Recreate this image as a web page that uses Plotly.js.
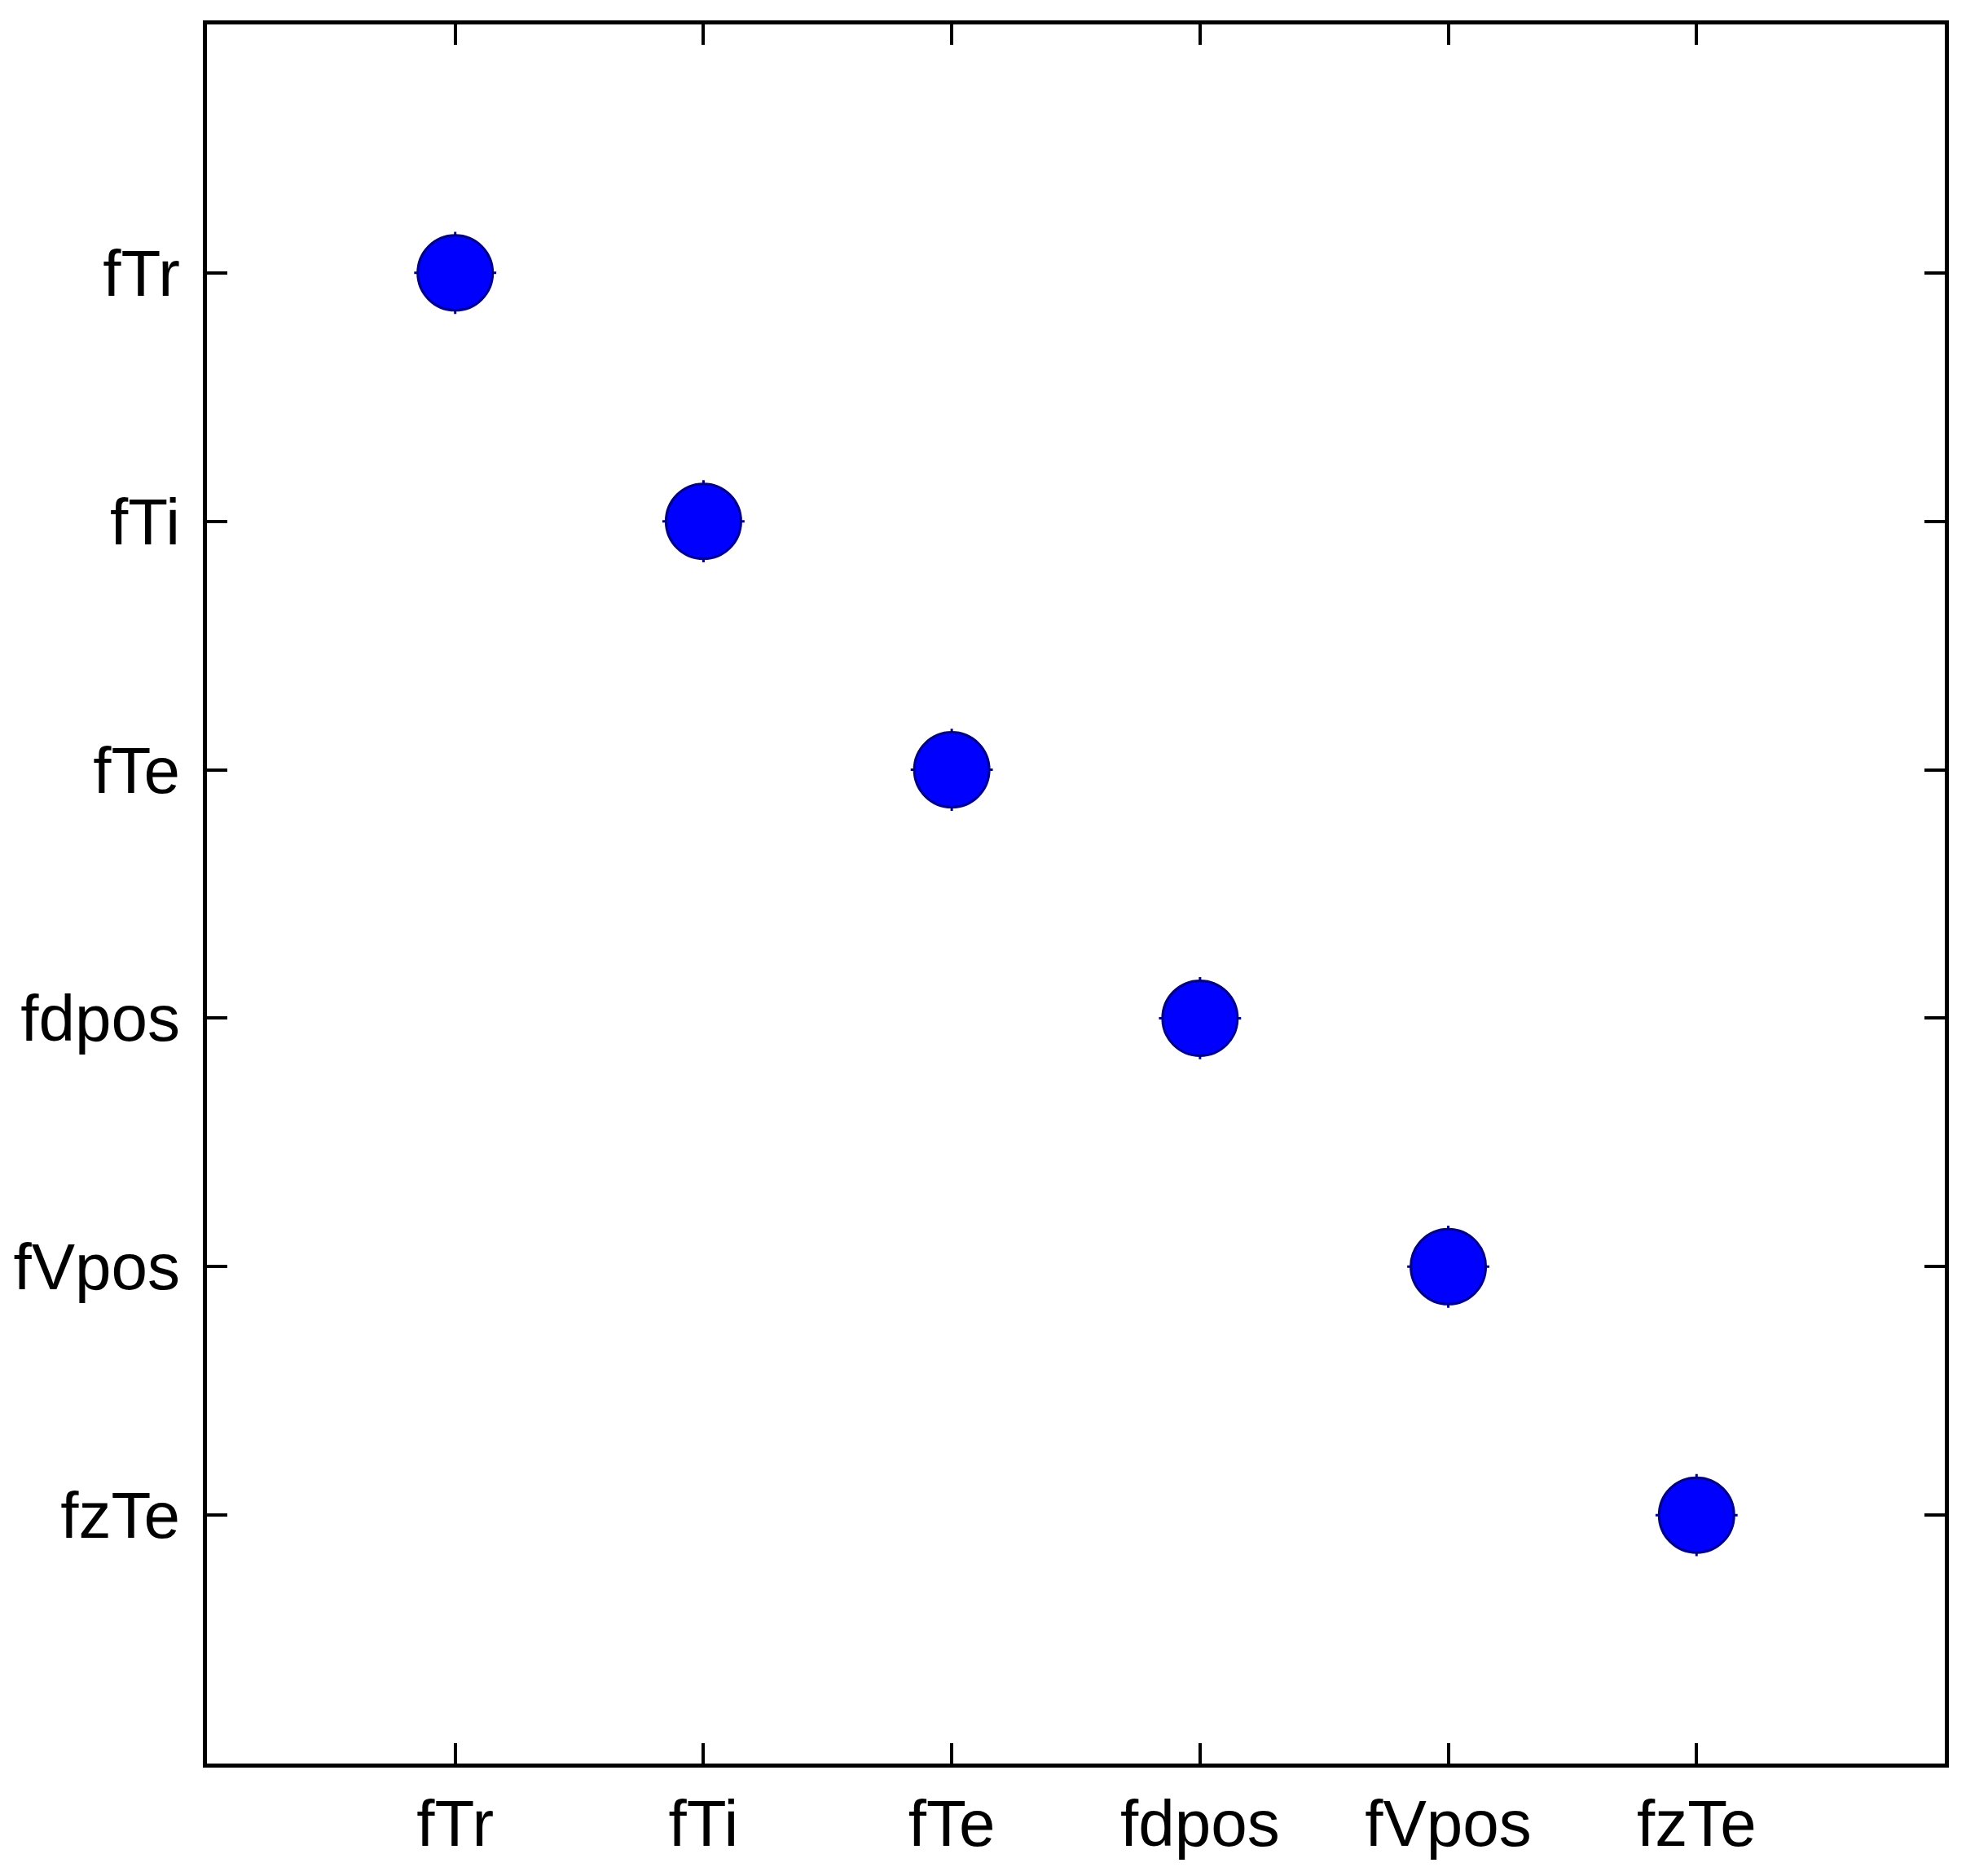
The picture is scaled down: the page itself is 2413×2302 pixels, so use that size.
<!DOCTYPE html>
<html>
<head>
<meta charset="utf-8">
<script src="https://cdn.plot.ly/plotly-3.0.1.min.js"></script>
<style>html,body{margin:0;padding:0;background:#fff;}#chart{width:2413px;height:2302px;}</style>
</head>
<body>
<div id="chart"></div>
<script>
// Categories (same order on both axes)
const xCategories = ["fTr", "fTi", "fTe", "fdpos", "fVpos", "fzTe"];
const yCategories = ["fTr", "fTi", "fTe", "fdpos", "fVpos", "fzTe"];
// Points: each variable paired with itself (diagonal)
const pointX = ["fTr", "fTi", "fTe", "fdpos", "fVpos", "fzTe"];
const pointY = ["fTr", "fTi", "fTe", "fdpos", "fVpos", "fzTe"];

const fontFam = '"Liberation Sans", Arial, sans-serif';

const stubs = {
  type: "scatter", mode: "markers", x: pointX, y: pointY,
  marker: {symbol: "cross-thin-open", size: 72, color: "#00008b", line: {color: "#00008b", width: 3}},
  hoverinfo: "skip", showlegend: false
};
const dots = {
  type: "scatter", mode: "markers", x: pointX, y: pointY,
  marker: {symbol: "circle", size: 92, color: "#0000ff", line: {color: "#00008b", width: 3}},
  showlegend: false
};

const axisCommon = {
  type: "category",
  showline: true, linecolor: "#000", linewidth: 5, mirror: "ticks",
  ticks: "inside", ticklen: 25, tickwidth: 4, tickcolor: "#000",
  showgrid: false, zeroline: false,
  tickfont: {family: fontFam, size: 80, color: "#000"}
};

const layout = {
  width: 2413, height: 2302,
  margin: {l: 254, r: 26, t: 30, b: 138, pad: 0},
  paper_bgcolor: "#fff", plot_bgcolor: "#fff",
  showlegend: false,
  xaxis: Object.assign({}, axisCommon, {
    categoryorder: "array", categoryarray: xCategories,
    range: [-1, xCategories.length], ticklabelstandoff: 0
  }),
  yaxis: Object.assign({}, axisCommon, {
    categoryorder: "array", categoryarray: yCategories,
    range: [yCategories.length, -1], ticklabelstandoff: 12
  })
};

Plotly.newPlot("chart", [stubs, dots], layout, {staticPlot: true, displayModeBar: false});
</script>
</body>
</html>
